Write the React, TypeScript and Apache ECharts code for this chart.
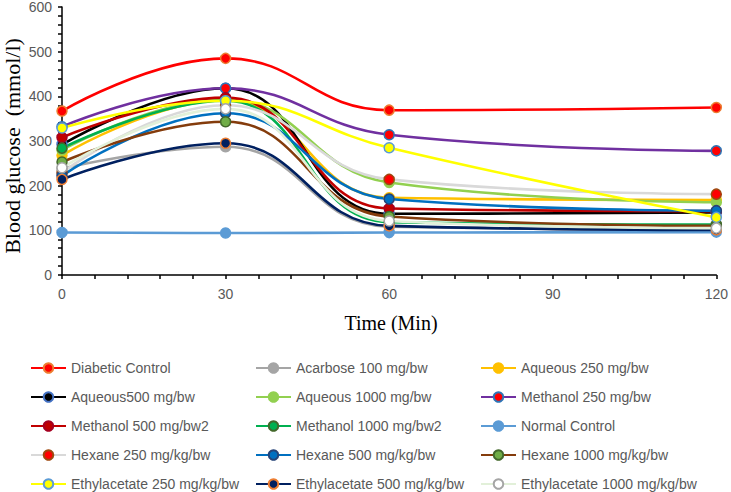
import React, { useEffect, useRef } from "react";
import * as echarts from "echarts";

const times = [0, 30, 60, 120];
const seriesNames = [
  "Diabetic Control",
  "Acarbose 100 mg/bw",
  "Aqueous 250 mg/bw",
  "Aqueous500 mg/bw",
  "Aqueous 1000 mg/bw",
  "Methanol 250 mg/bw",
  "Methanol 500 mg/bw2",
  "Methanol 1000 mg/bw2",
  "Normal Control",
  "Hexane 250 mg/kg/bw",
  "Hexane 500 mg/kg/bw",
  "Hexane 1000 mg/kg/bw",
  "Ethylacetate 250 mg/kg/bw",
  "Ethylacetate 500 mg/kg/bw",
  "Ethylacetate 1000 mg/kg/bw",
];
const diabeticControl = [367, 485, 369, 375];
const acarbose100 = [238, 287, 108, 102];
const aqueous250 = [268, 392, 173, 168];
const aqueous500 = [292, 418, 137, 140];
const aqueous1000 = [280, 393, 207, 163];
const methanol250 = [332, 418, 314, 278];
const methanol500 = [308, 397, 149, 143];
const methanol1000 = [284, 390, 118, 113];
const normalControl = [95, 94, 95, 96];
const hexane250 = [229, 380, 214, 181];
const hexane500 = [222, 362, 170, 144];
const hexane1000 = [253, 343, 131, 110];
const ethyl250 = [329, 390, 285, 129];
const ethyl500 = [214, 295, 110, 101];
const ethyl1000 = [240, 372, 121, 105];
const allValues = [
  diabeticControl, acarbose100, aqueous250, aqueous500, aqueous1000,
  methanol250, methanol500, methanol1000, normalControl,
  hexane250, hexane500, hexane1000, ethyl250, ethyl500, ethyl1000,
];
const xTicks = [0, 30, 60, 90, 120];
const yTicks = [0, 100, 200, 300, 400, 500, 600];

// [line colour, marker fill, marker border]
const styles: [string, string, string][] = [
  ["#FF0000", "#FF0000", "#ED7D31"],
  ["#A5A5A5", "#A5A5A5", "#A5A5A5"],
  ["#FFC000", "#FFC000", "#FFC000"],
  ["#000000", "#000000", "#4472C4"],
  ["#92D050", "#92D050", "#92D050"],
  ["#7030A0", "#FF0000", "#2E75B6"],
  ["#C00000", "#C00000", "#A50021"],
  ["#00B050", "#00B050", "#43682B"],
  ["#5B9BD5", "#5B9BD5", "#5B9BD5"],
  ["#D9D9D9", "#FF0000", "#9E480E"],
  ["#0070C0", "#0070C0", "#264478"],
  ["#843C0C", "#70AD47", "#43682B"],
  ["#FFFF00", "#FFFF00", "#5B9BD5"],
  ["#002060", "#002060", "#ED7D31"],
  ["#E2F0D9", "#FFFFFF", "#A5A5A5"],
];

export default function App() {
  const ref = useRef<HTMLDivElement>(null);
  useEffect(() => {
    if (!ref.current) return;
    const chart = echarts.init(ref.current, null, { renderer: "svg" });
    const labelFont = "Liberation Sans";
    const series = seriesNames.map((name, i) => ({
      name,
      type: "line",
      smooth: 0.45,
      symbol: "circle",
      symbolSize: 10,
      data: times.map((t, j) => [t, allValues[i][j]]),
      lineStyle: { color: styles[i][0], width: 2.6 },
      itemStyle: { color: styles[i][1], borderColor: styles[i][2], borderWidth: 1.5 },
      emphasis: { disabled: true },
    }));
    chart.setOption({
      animation: false,
      grid: { left: 62, right: 11, top: 5, bottom: 217, containLabel: false },
      xAxis: {
        type: "value",
        min: xTicks[0],
        max: xTicks[xTicks.length - 1],
        interval: 30,
        splitLine: { show: false },
        axisLine: { show: true, lineStyle: { color: "#000", width: 1.5 } },
        axisTick: { show: true, length: 4, lineStyle: { color: "#000", width: 1.5 } },
        minorTick: { show: true, splitNumber: 5, length: 4, lineStyle: { color: "#000", width: 1.5 } },
        axisLabel: { color: "#595959", fontSize: 14, fontFamily: labelFont, margin: 12 },
      },
      yAxis: {
        type: "value",
        min: yTicks[0],
        max: yTicks[yTicks.length - 1],
        interval: 100,
        splitLine: { show: false },
        axisLine: { show: true, lineStyle: { color: "#000", width: 1.5 } },
        axisTick: { show: true, length: 4, lineStyle: { color: "#000", width: 1.5 } },
        minorTick: { show: true, splitNumber: 5, length: 4, lineStyle: { color: "#000", width: 1.5 } },
        axisLabel: { color: "#595959", fontSize: 14, fontFamily: labelFont, margin: 10 },
      },
      legend: {
        left: 30,
        top: 361,
        width: 690,
        padding: 0,
        itemWidth: 35,
        itemHeight: 12,
        itemGap: 15,
        selectedMode: false,
        textStyle: {
          color: "#595959",
          fontSize: 14,
          fontFamily: labelFont,
          width: 169,
          lineHeight: 14,
        },
        data: seriesNames,
      },
      graphic: [
        {
          type: "text",
          x: 12,
          y: 146,
          rotation: Math.PI / 2,
          style: {
            text: "Blood glucose  (mmol/l)",
            font: "22px 'Liberation Serif'",
            fill: "#000",
            textAlign: "center",
            textVerticalAlign: "middle",
          },
        },
        {
          type: "text",
          x: 391,
          y: 323,
          style: {
            text: "Time (Min)",
            font: "20px 'Liberation Serif'",
            fill: "#000",
            textAlign: "center",
            textVerticalAlign: "middle",
          },
        },
      ],
      series,
    });
    return () => chart.dispose();
  }, []);
  return <div ref={ref} style={{ width: 731, height: 492, position: "absolute", left: 0, top: 0 }} />;
}
